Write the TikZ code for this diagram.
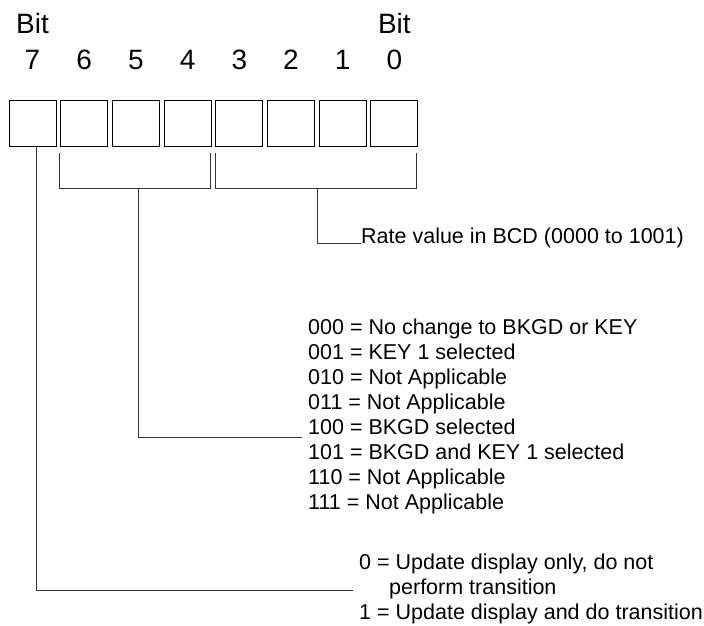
\documentclass[tikz,border=0pt]{standalone}
\usepackage{fontspec}
\setmainfont{Liberation Sans}
\usetikzlibrary{math}

\tikzset{
  bitbox/.style={draw, line width=1pt, minimum width=47pt, minimum height=46pt, inner sep=0pt},
  bigtxt/.style={font=\fontsize{28}{32}\selectfont, inner sep=0pt, anchor=base},
  txt/.style={font=\fontsize{21.5}{25}\selectfont, inner sep=0pt, anchor=base west},
  lead/.style={line width=1pt, black!80},
}

\begin{document}
\begin{tikzpicture}[x=1pt, y=-1pt]
\tikzmath{
\p=51.7;
\w=47;
\ytop=100;
\dy=25;
}
\useasboundingbox (0,0) rectangle (704,625);

% register: boxes and bit numbers
\foreach \i [count=\k from 0] in {7,6,...,0}{
  \node[bitbox] (b\i) at (9+\k*\p+\w/2, \ytop+23) {};
  \node[bigtxt] (n\i) at (9+\k*\p+\w/2, 69) {\i};
}
\node[bigtxt] (bitL) at (9+\w/2, 33) {Bit};
\node[bigtxt] (bitR) at (9+7*\p+\w/2, 33) {Bit};

%%%%%%%%%%   bits 3..0
\coordinate (r3) at (215,153);
\coordinate (r0) at (416,153);
\coordinate (rs) at (317,188);
\draw[lead] (r3) -- ++(0,35) -| (r0);
\node[txt] (rate) at (361,243) {Rate value in BCD (0000 to 1001)};
\draw[lead] (rs) |- (rate.base west);

%%%%%%%%%%   bits 6..4
\coordinate (l6) at (59,153);
\coordinate (l4) at (210,153);
\coordinate (ls) at (138,188);
\draw[lead] (l6) -- ++(0,35) -| (l4);
\foreach \t [count=\k from 0] in {000 = No change to BKGD or KEY, 001 = KEY 1 selected,
  010 = Not Applicable, 011 = Not Applicable, 100 = BKGD selected,
  101 = BKGD and KEY 1 selected, 110 = Not Applicable, 111 = Not Applicable}{
  \node[txt] (c\k) at (308, 334+\k*\dy) {\t};
}
\coordinate (e6) at (302,437);
\draw[lead] (ls) |- (e6);

%%%%%%%%%%   bit 7
\node[txt] (u0) at (359,569) {0 = Update display only, do not};
\node[txt] (u1) at (389,594) {perform transition};
\node[txt] (u2) at (359,619) {1 = Update display and do transition};
\coordinate (s7) at (36,146);
\coordinate (e7) at (353,590);
\draw[lead] (s7) |- (e7);
\end{tikzpicture}
\end{document}
